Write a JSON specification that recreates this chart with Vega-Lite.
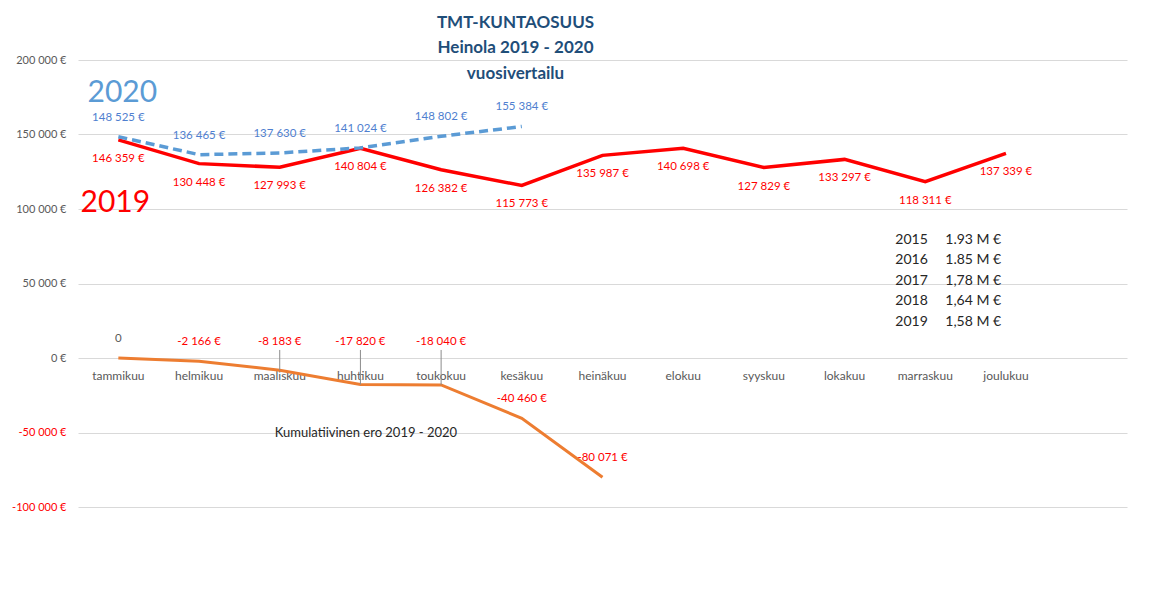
{
  "$schema": "https://vega.github.io/schema/vega-lite/v6.json",
  "width": 1049,
  "height": 447,
  "autosize": {"type": "none"},
  "padding": {"top": 60, "left": 78, "right": 24, "bottom": 109},
  "background": "white",
  "config": {
    "font": "Lato",
    "view": {"stroke": null},
    "locale": {"number": {"decimal": ",", "thousands": "\u00a0", "grouping": [3], "currency": ["", "\u00a0€"], "minus": "-"}}
  },
  "title": {
    "text": ["TMT-KUNTAOSUUS", "Heinola 2019 - 2020"],
    "subtitle": "vuosivertailu",
    "anchor": "middle",
    "frame": "group",
    "dx": -87,
    "offset": -29,
    "font": "Lato",
    "fontSize": 17,
    "fontWeight": "bold",
    "color": "#1F4E79",
    "lineHeight": 25,
    "subtitleFont": "Lato",
    "subtitleFontSize": 17,
    "subtitleFontWeight": "bold",
    "subtitleColor": "#1F4E79",
    "subtitlePadding": 9
  },
  "datasets": {
    "kuukaudet": [
      {"kk": "tammikuu", "v2019": 146359, "v2020": 148525, "ero": 0},
      {"kk": "helmikuu", "v2019": 130448, "v2020": 136465, "ero": -2166},
      {"kk": "maaliskuu", "v2019": 127993, "v2020": 137630, "ero": -8183},
      {"kk": "huhtikuu", "v2019": 140804, "v2020": 141024, "ero": -17820},
      {"kk": "toukokuu", "v2019": 126382, "v2020": 148802, "ero": -18040},
      {"kk": "kesäkuu", "v2019": 115773, "v2020": 155384, "ero": -40460},
      {"kk": "heinäkuu", "v2019": 135987, "ero": -80071},
      {"kk": "elokuu", "v2019": 140698},
      {"kk": "syyskuu", "v2019": 127829},
      {"kk": "lokakuu", "v2019": 133297},
      {"kk": "marraskuu", "v2019": 118311},
      {"kk": "joulukuu", "v2019": 137339}
    ],
    "vuodet": [
      {"vuosi": 2015, "summa": "1.93 M €"},
      {"vuosi": 2016, "summa": "1.85 M €"},
      {"vuosi": 2017, "summa": "1,78 M €"},
      {"vuosi": 2018, "summa": "1,64 M €"},
      {"vuosi": 2019, "summa": "1,58 M €"}
    ]
  },
  "resolve": {"scale": {"y": "independent", "x": "independent"}},
  "layer": [
    {
      "data": {"name": "kuukaudet"},
      "encoding": {
        "x": {
          "field": "kk",
          "type": "nominal",
          "sort": null,
          "title": null,
          "scale": {"domain": ["tammikuu", "helmikuu", "maaliskuu", "huhtikuu", "toukokuu", "kesäkuu", "heinäkuu", "elokuu", "syyskuu", "lokakuu", "marraskuu", "joulukuu", ""]},
          "axis": {"orient": "bottom", "offset": -149, "domain": false, "ticks": false, "grid": false, "labelAngle": 0, "labelPadding": 12, "labelColor": "#595959", "labelFontSize": 12, "labelFont": "Lato", "title": null}
        }
      },
      "layer": [
        {
          "mark": {"type": "line", "color": "#FF0000", "strokeWidth": 3.5},
          "encoding": {
            "y": {
              "field": "v2019",
              "type": "quantitative",
              "title": null,
              "scale": {"domain": [-100000, 200000], "nice": false, "zero": false},
              "axis": {
                "title": null,
                "values": [-100000, -50000, 0, 50000, 100000, 150000, 200000],
                "format": "$,.0f",
                "labelColor": {"expr": "datum.value < 0 ? '#FF0000' : '#595959'"},
                "labelFontSize": 11,
                "labelFont": "Lato",
                "labelPadding": 12,
                "domain": false,
                "ticks": false,
                "grid": true,
                "gridColor": "#D9D9D9",
                "gridWidth": 1
              }
            }
          }
        },
        {
          "transform": [{"filter": "isValid(datum.v2020)"}],
          "mark": {"type": "line", "color": "#5B9BD5", "strokeWidth": 3.5, "strokeDash": [9, 5]},
          "encoding": {"y": {"field": "v2020", "type": "quantitative", "title": null}}
        },
        {
          "transform": [{"filter": "isValid(datum.ero)"}],
          "mark": {"type": "line", "color": "#ED7D31", "strokeWidth": 3},
          "encoding": {"y": {"field": "ero", "type": "quantitative", "title": null}}
        },
        {
          "transform": [{"filter": "isValid(datum.v2020)"}],
          "mark": {"type": "text", "color": "#4F7FD0", "fontSize": 11.5, "dy": -19, "baseline": "middle"},
          "encoding": {
            "y": {"field": "v2020", "type": "quantitative", "title": null},
            "text": {"field": "v2020", "type": "quantitative", "format": "$,.0f"}
          }
        },
        {
          "mark": {"type": "text", "color": "#FF0000", "fontSize": 11.5, "dy": 19, "baseline": "middle"},
          "encoding": {
            "y": {"field": "v2019", "type": "quantitative", "title": null},
            "text": {"field": "v2019", "type": "quantitative", "format": "$,.0f"}
          }
        },
        {
          "transform": [{"filter": {"field": "kk", "oneOf": ["tammikuu", "helmikuu", "kesäkuu", "heinäkuu"]}}],
          "mark": {"type": "text", "fontSize": 11.5, "dy": -19, "baseline": "middle"},
          "encoding": {
            "y": {"field": "ero", "type": "quantitative", "title": null},
            "text": {"condition": {"test": "datum.ero === 0", "value": "0"}, "field": "ero", "type": "quantitative", "format": "$,.0f"},
            "color": {"condition": {"test": "datum.ero === 0", "value": "#595959"}, "value": "#FF0000"}
          }
        },
        {
          "transform": [{"filter": {"field": "kk", "oneOf": ["maaliskuu", "huhtikuu", "toukokuu"]}}],
          "mark": {"type": "rule", "color": "#8C8C8C", "strokeWidth": 1},
          "encoding": {
            "y": {"field": "ero", "type": "quantitative", "title": null},
            "y2": {"datum": 5400}
          }
        },
        {
          "transform": [{"filter": {"field": "kk", "oneOf": ["maaliskuu", "huhtikuu", "toukokuu"]}}],
          "mark": {"type": "text", "fontSize": 11.5, "color": "#FF0000", "baseline": "middle"},
          "encoding": {
            "y": {"datum": 10700, "type": "quantitative"},
            "text": {"field": "ero", "type": "quantitative", "format": "$,.0f"}
          }
        },
        {
          "transform": [{"filter": {"field": "kk", "equal": "tammikuu"}}],
          "mark": {"type": "text", "text": "2020", "fontSize": 30, "color": "#5B9BD5", "dx": 4, "baseline": "middle"},
          "encoding": {"y": {"datum": 178000, "type": "quantitative"}}
        },
        {
          "transform": [{"filter": {"field": "kk", "equal": "tammikuu"}}],
          "mark": {"type": "text", "text": "2019", "fontSize": 30, "color": "#FF0000", "dx": -3, "baseline": "middle"},
          "encoding": {"y": {"datum": 103700, "type": "quantitative"}}
        },
        {
          "transform": [{"filter": {"field": "kk", "equal": "maaliskuu"}}],
          "mark": {"type": "text", "text": "Kumulatiivinen ero 2019 - 2020", "fontSize": 13, "color": "#262626", "align": "left", "dx": -5, "baseline": "middle"},
          "encoding": {"y": {"datum": -50000, "type": "quantitative"}}
        }
      ]
    },
    {
      "data": {"name": "vuodet"},
      "encoding": {
        "x": {"datum": "marraskuu", "type": "nominal", "scale": {"domain": ["tammikuu", "helmikuu", "maaliskuu", "huhtikuu", "toukokuu", "kesäkuu", "heinäkuu", "elokuu", "syyskuu", "lokakuu", "marraskuu", "joulukuu", ""]}, "axis": null},
        "y": {"field": "vuosi", "type": "quantitative", "scale": {"domain": [2006.19, 2028.07], "reverse": true, "nice": false, "zero": false}, "axis": null}
      },
      "layer": [
        {
          "mark": {"type": "text", "fontSize": 14, "color": "#262626", "align": "left", "dx": -30, "baseline": "middle"},
          "encoding": {"text": {"field": "vuosi", "type": "nominal"}}
        },
        {
          "mark": {"type": "text", "fontSize": 14, "color": "#262626", "align": "left", "dx": 20, "baseline": "middle"},
          "encoding": {"text": {"field": "summa", "type": "nominal"}}
        }
      ]
    }
  ]
}
